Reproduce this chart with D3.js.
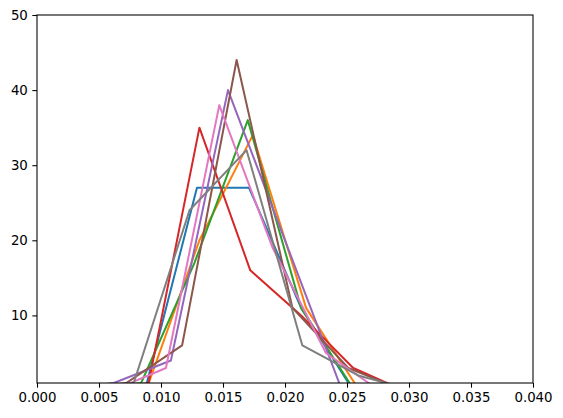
<!DOCTYPE html>
<html>
<head>
<meta charset="utf-8">
<script src="https://cdn.jsdelivr.net/npm/d3@7"></script>
<style>
    body { margin: 0; background: #fff; }
    svg { display: block; }
    .tick text { font-family: "DejaVu Sans", sans-serif; font-size: 13.33px; fill: #000; }
</style>
</head>
<body>
<div id="chart"></div>
<script>
// bin centres and counts for each run
const blueX   = [0.0045, 0.0087, 0.0129, 0.0171, 0.0213, 0.0255, 0.0297];
const blueY   = [0, 0, 27, 27, 11, 0, 0];
const orangeX = [0.0045, 0.0088, 0.0131, 0.0174, 0.0217, 0.0260];
const orangeY = [0, 0, 20, 34, 11, 0];
const greenX  = [0.0041, 0.0084, 0.0127, 0.0170, 0.0213, 0.0256];
const greenY  = [0, 1, 17, 36, 11, 0];
const redX    = [0.0049, 0.0090, 0.0131, 0.0172, 0.0213, 0.0255, 0.0296];
const redY    = [0, 1, 35, 16, 10, 3, 0];
const purpleX = [0.0016, 0.0062, 0.0108, 0.0154, 0.0200, 0.0246];
const purpleY = [0, 1, 4, 40, 20, 0];
const brownX  = [0.0027, 0.0072, 0.0117, 0.0161, 0.0206, 0.0251, 0.0296];
const brownY  = [0, 1, 6, 44, 11, 3, 0];
const pinkX   = [0.0061, 0.0104, 0.0147, 0.0190, 0.0233, 0.0276];
const pinkY   = [0, 3, 38, 19, 5, 0];
const grayX   = [0.0033, 0.0078, 0.0123, 0.0169, 0.0214, 0.0259, 0.0304];
const grayY   = [0, 1, 24, 32, 6, 2, 0];

const xTicks = [0, 0.005, 0.01, 0.015, 0.02, 0.025, 0.03, 0.035, 0.04];
const yTicks = [10, 20, 30, 40, 50];

const series = [
    {x: blueX,   y: blueY,   color: "#1f77b4"},
    {x: orangeX, y: orangeY, color: "#ff7f0e"},
    {x: greenX,  y: greenY,  color: "#2ca02c"},
    {x: redX,    y: redY,    color: "#d62728"},
    {x: purpleX, y: purpleY, color: "#9467bd"},
    {x: brownX,  y: brownY,  color: "#8c564b"},
    {x: pinkX,   y: pinkY,   color: "#e377c2"},
    {x: grayX,   y: grayY,   color: "#7f7f7f"}
];

const width = 563, height = 418;
const margin = {top: 15, right: 30, bottom: 35, left: 37};

let svg = d3.select("#chart")
    .append("svg")
    .attr("width", width)
    .attr("height", height);

let x = d3.scaleLinear()
    .domain([0, 0.04])
    .range([margin.left, width - margin.right]);

let y = d3.scaleLinear()
    .domain([1, 50])
    .range([height - margin.bottom, margin.top]);

svg.append("clipPath")
    .attr("id", "plot-area")
    .append("rect")
    .attr("x", margin.left)
    .attr("y", margin.top)
    .attr("width", x.range()[1] - x.range()[0])
    .attr("height", y.range()[0] - y.range()[1]);

let line = d3.line()
    .x(d => x(d[0]))
    .y(d => y(d[1]));

svg.append("g")
    .attr("clip-path", "url(#plot-area)")
    .selectAll("path")
    .data(series)
    .enter().append("path")
    .attr("d", s => line(s.x.map((v, i) => [v, s.y[i]])))
    .attr("fill", "none")
    .attr("stroke", s => s.color)
    .attr("stroke-width", 2)
    .attr("stroke-linejoin", "round");

// axes
let xAxis = svg.append("g")
    .attr("transform", `translate(0,${height - margin.bottom})`)
    .call(d3.axisBottom(x).tickValues(xTicks).tickFormat(d3.format(".3f")).tickSizeOuter(0).tickSize(4.67).tickPadding(4.5));

let yAxis = svg.append("g")
    .attr("transform", `translate(${margin.left},0)`)
    .call(d3.axisLeft(y).tickValues(yTicks).tickFormat(d3.format("d")).tickSizeOuter(0).tickSize(4.67).tickPadding(4.5));

svg.selectAll(".domain").remove();
svg.selectAll(".tick line").attr("stroke", "#000").attr("stroke-width", 1.07);

// frame
svg.append("rect")
    .attr("x", margin.left)
    .attr("y", margin.top)
    .attr("width", x.range()[1] - x.range()[0])
    .attr("height", y.range()[0] - y.range()[1])
    .attr("fill", "none")
    .attr("stroke", "#000")
    .attr("stroke-width", 1.07);
</script>
</body>
</html>
